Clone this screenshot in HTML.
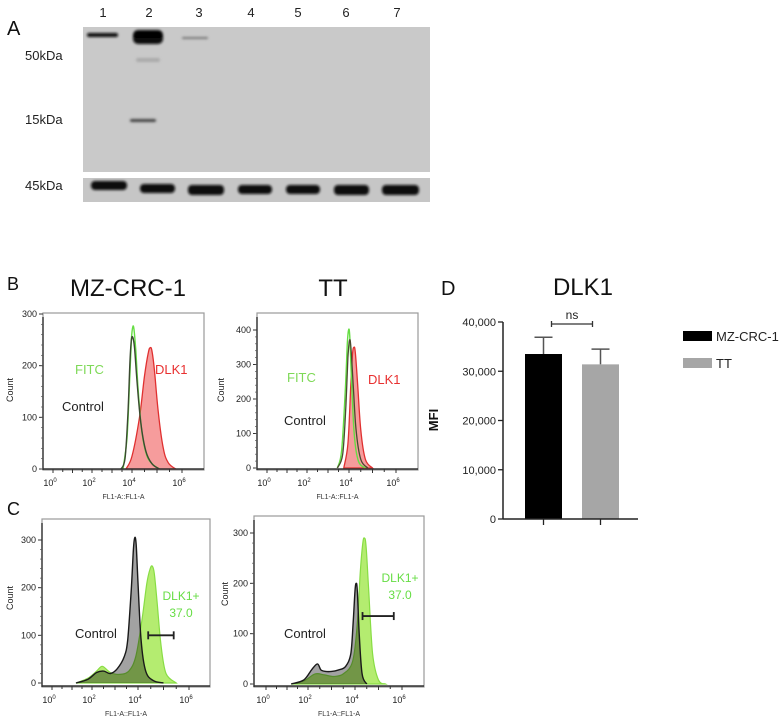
<!DOCTYPE html>
<html><head><meta charset="utf-8">
<style>
html,body{margin:0;padding:0;background:#fff;}
body{width:784px;height:722px;position:relative;overflow:hidden;font-family:"Liberation Sans",Arial,sans-serif;}
svg{position:absolute;left:0;top:0;}
</style></head>
<body>
<svg id="fig" width="784" height="722" viewBox="0 0 784 722" xmlns="http://www.w3.org/2000/svg">
<defs>
<filter id="blur1" x="-20%" y="-50%" width="140%" height="200%"><feGaussianBlur stdDeviation="1.2"/></filter>
</defs>
<g>
<text x="7" y="35" font-size="20" fill="#111">A</text>
<g font-size="13" fill="#222" text-anchor="middle">
<text x="103" y="17">1</text><text x="149" y="17">2</text><text x="199" y="17">3</text><text x="251" y="17">4</text><text x="298" y="17">5</text><text x="346" y="17">6</text><text x="397" y="17">7</text>
</g>
<g font-size="13" fill="#222">
<text x="25" y="60">50kDa</text><text x="25" y="124">15kDa</text><text x="25" y="190">45kDa</text>
</g>
<rect x="83" y="27" width="347" height="145" fill="#c9c9c9"/>
<rect x="83" y="178" width="347" height="24" fill="#c6c6c6"/>
<g filter="url(#blur1)" fill="#111">
<rect x="87" y="33" width="31" height="4" rx="2"/>
<rect x="133" y="30" width="30" height="14" rx="5"/>
<rect x="134" y="32" width="28" height="6" rx="3" fill="#000"/>
<rect x="182" y="37" width="26" height="2" rx="1" fill="#777"/>
<rect x="136" y="58" width="24" height="4" rx="2" fill="#aaa"/>
<rect x="130" y="119" width="26" height="3" rx="1.5" fill="#444"/>
<rect x="91" y="181" width="36" height="9" rx="4"/>
<rect x="140" y="184" width="35" height="9" rx="4"/>
<rect x="188" y="185" width="36" height="10" rx="4"/>
<rect x="238" y="185" width="34" height="9" rx="4"/>
<rect x="286" y="185" width="34" height="9" rx="4"/>
<rect x="334" y="185" width="35" height="10" rx="4"/>
<rect x="382" y="185" width="37" height="10" rx="4"/>
</g>
</g>

<text x="7" y="290" font-size="18" fill="#111">B</text>
<text x="7" y="515" font-size="18" fill="#111">C</text>
<text x="128" y="296" font-size="24" fill="#111" text-anchor="middle">MZ-CRC-1</text>
<text x="333" y="296" font-size="24" fill="#111" text-anchor="middle">TT</text>

<g id="hists"></g>
<g id="bar"></g>
</svg>

<script>
// ---------- Histogram data (log10 intensity, count) ----------
const bLeftControlX = [3.45,3.65,3.8,3.9,3.97,4.03,4.1,4.2,4.35,4.55,4.8,5.1];
const bLeftControlY = [0,20,110,210,250,255,235,170,90,35,10,0];
const bLeftFitcX = [3.55,3.75,3.88,3.97,4.03,4.08,4.15,4.25,4.4,4.6,4.85,5.1];
const bLeftFitcY = [0,60,170,250,275,270,230,150,70,25,8,0];
const bLeftDlkX = [3.7,4.0,4.3,4.5,4.65,4.73,4.8,4.9,5.05,5.25,5.45,5.75];
const bLeftDlkY = [0,25,100,180,225,235,228,190,110,40,12,0];

const bRightControlX = [3.45,3.7,3.85,3.95,4.02,4.08,4.18,4.3,4.5,4.8];
const bRightControlY = [0,40,180,320,370,350,240,110,25,0];
const bRightFitcX = [3.45,3.65,3.82,3.92,3.98,4.03,4.1,4.22,4.4,4.7];
const bRightFitcY = [0,50,220,360,400,385,270,100,20,0];
const bRightDlkX = [3.75,3.95,4.07,4.15,4.21,4.27,4.37,4.5,4.7,5.0];
const bRightDlkY = [0,70,230,330,350,335,240,110,25,0];

const cLeftControlX = [1.2,1.8,2.2,2.5,2.8,3.1,3.4,3.55,3.7,3.8,3.86,3.92,4.0,4.12,4.3,4.6,5.0];
const cLeftControlY = [0,8,22,25,20,30,55,90,190,280,305,290,210,90,25,5,0];
const cLeftDlkX = [1.2,1.8,2.2,2.45,2.8,3.2,3.6,3.9,4.15,4.35,4.48,4.56,4.64,4.75,4.9,5.1,5.5];
const cLeftDlkY = [0,10,25,35,22,18,25,55,130,210,240,245,230,170,80,20,0];

const cRightControlX = [1.2,1.8,2.15,2.4,2.55,2.75,3.0,3.3,3.6,3.82,3.92,4.0,4.05,4.1,4.18,4.3,4.5];
const cRightControlY = [0,8,28,40,28,25,25,28,35,60,120,185,200,185,100,20,0];
const cRightDlkX = [1.2,1.8,2.3,2.7,3.1,3.5,3.9,4.1,4.22,4.33,4.4,4.47,4.58,4.75,5.0,5.3];
const cRightDlkY = [0,6,20,18,15,20,45,120,220,280,290,275,190,60,8,0];

const gateLeft = [4.4, 5.4, 100];
const gateRight = [4.32, 5.65, 135];

const xTickLogs = [0,2,4,6];
const xTickText = ["10","10","10","10"];
const bLeftYTicks = [0,100,200,300];
const bRightYTicks = [0,100,200,300,400];
const cYTicks = [0,100,200,300];

// ---------- Bar chart data ----------
const barCategories = ["MZ-CRC-1","TT"];
const barMeans = [33500, 31400];
const barErrors = [3400, 3100];
const barYTicks = [0,10000,20000,30000,40000];
const barYTickText = ["0","10,000","20,000","30,000","40,000"];

const NS = "http://www.w3.org/2000/svg";
function mk(tag, attrs, parent){
  const e = document.createElementNS(NS, tag);
  for (const k in attrs) e.setAttribute(k, attrs[k]);
  if (parent) parent.appendChild(e);
  return e;
}
function smoothPath(pts){
  let d = "M" + pts[0][0].toFixed(1) + "," + pts[0][1].toFixed(1);
  for (let i=0;i<pts.length-1;i++){
    const p0 = pts[i-1]||pts[i], p1=pts[i], p2=pts[i+1], p3=pts[i+2]||p2;
    const c1x = p1[0]+(p2[0]-p0[0])/6, c1y = p1[1]+(p2[1]-p0[1])/6;
    const c2x = p2[0]-(p3[0]-p1[0])/6, c2y = p2[1]-(p3[1]-p1[1])/6;
    d += " C"+c1x.toFixed(1)+","+c1y.toFixed(1)+" "+c2x.toFixed(1)+","+c2y.toFixed(1)+" "+p2[0].toFixed(1)+","+p2[1].toFixed(1);
  }
  return d;
}
function makeX(knotsLog, knotsPx){
  return function(v){
    if (v<=knotsLog[0]) return knotsPx[0]+(v-knotsLog[0])*(knotsPx[1]-knotsPx[0])/(knotsLog[1]-knotsLog[0]);
    for (let i=0;i<knotsLog.length-1;i++){
      if (v<=knotsLog[i+1]) return knotsPx[i]+(v-knotsLog[i])*(knotsPx[i+1]-knotsPx[i])/(knotsLog[i+1]-knotsLog[i]);
    }
    const n=knotsLog.length-1;
    return knotsPx[n]+(v-knotsLog[n])*(knotsPx[n]-knotsPx[n-1])/(knotsLog[n]-knotsLog[n-1]);
  };
}
function makeY(y0, pxPerCount){ return c => y0 - c*pxPerCount; }

const hists = document.getElementById('hists');

function frame(p, name){
  const g = mk('g', {}, hists);
  
  
  const r = mk('rect', {x:p.l, y:p.t, width:p.r-p.l, height:p.b-p.t, fill:'#fff', stroke:'#9a9a9a', 'stroke-width':1.2}, g);
  
  
  return g;
}
function axes(g, p, X, Y, yTicks, labelY){
  mk('line', {x1:p.l, y1:p.t+4, x2:p.l, y2:p.b, stroke:'#333', 'stroke-width':1.4}, g);
  yTicks.forEach(v=>{
    const y = Y(v);
    mk('line', {x1:p.l-4, y1:y, x2:p.l, y2:y, stroke:'#333', 'stroke-width':1}, g);
    const t = mk('text', {x:p.l-6, y:y+3, 'font-size':9, 'text-anchor':'end', fill:'#222'}, g);
    t.textContent = v;
    
    
  });
  for (let c=yTicks[0]; c<yTicks[yTicks.length-1]; c+=20){
    mk('line', {x1:p.l-2, y1:Y(c), x2:p.l, y2:Y(c), stroke:'#555', 'stroke-width':0.7}, g);
  }
  mk('line', {x1:p.l, y1:p.b-1, x2:p.r, y2:p.b-1, stroke:'#333', 'stroke-width':1.4}, g);
  for (let d=0; d<=6.4; d+=0.5){
    const x = X(d);
    if (x<p.l||x>p.r) continue;
    mk('line', {x1:x, y1:p.b-1, x2:x, y2:p.b+ (d%1===0?3:2), stroke:'#333', 'stroke-width':1}, g);
  }
  xTickLogs.forEach((v,i)=>{
    const t = mk('text', {x:X(v)-3, y:p.b+16, 'font-size':9, 'text-anchor':'middle', fill:'#222'}, g);
    t.textContent = xTickText[i];
    const s = mk('tspan', {dy:-4, 'font-size':6}, t);
    s.textContent = v;
    
    
  });
  const xt = mk('text', {x:(p.l+p.r)/2, y:p.b+29, 'font-size':7, 'text-anchor':'middle', fill:'#333'}, g);
  xt.textContent = 'FL1-A::FL1-A';
  
  
  const yt = mk('text', {x:0, y:0, 'font-size':9, 'text-anchor':'middle', fill:'#222', transform:'translate('+labelY[0]+','+labelY[1]+') rotate(-90)'}, g);
  yt.textContent = 'Count';
  
  
}
function pts(xs, ys, X, Y){ return xs.map((v,i)=>[X(v), Y(ys[i])]); }
function label(g, txt, x, y, color, name, size){
  const t = mk('text', {x:x, y:y, 'font-size':size||13, fill:color}, g);
  t.textContent = txt;
  
  
  return t;
}

// ---- B left ----
(function(){
  const p = {l:43,r:204,t:313,b:470};
  const X = makeX([0,2,4,6],[53,92,132,182]);
  const Y = makeY(469, (469-314)/300);
  const g = frame(p, 'histogram-b-mz-crc-1');
  const red = mk('path', {d:smoothPath(pts(bLeftDlkX,bLeftDlkY,X,Y))+' Z', fill:'rgba(240,90,90,0.6)', stroke:'#e03030', 'stroke-width':1.3}, g);
  
  
  const gr = mk('path', {d:smoothPath(pts(bLeftFitcX,bLeftFitcY,X,Y)), fill:'none', stroke:'#66dd44', 'stroke-width':1.4}, g);
  
  
  const bl = mk('path', {d:smoothPath(pts(bLeftControlX,bLeftControlY,X,Y)), fill:'none', stroke:'#3a4a30', 'stroke-width':1.4}, g);
  
  
  axes(g, p, X, Y, bLeftYTicks, [13, 390]);
  label(g, 'FITC', 75, 374, '#7ed957', 'fitc-label');
  label(g, 'DLK1', 155, 374, '#e83030', 'dlk1-label');
  label(g, 'Control', 62, 411, '#222', 'control-label');
})();

// ---- B right ----
(function(){
  const p = {l:257,r:418,t:313,b:470};
  const X = makeX([0,2,4,6],[267,307,349,396]);
  const Y = makeY(468, (468-330)/400);
  const g = frame(p, 'histogram-b-tt');
  const red = mk('path', {d:smoothPath(pts(bRightDlkX,bRightDlkY,X,Y))+' Z', fill:'rgba(240,90,90,0.6)', stroke:'#e03030', 'stroke-width':1.3}, g);
  
  
  const gr = mk('path', {d:smoothPath(pts(bRightFitcX,bRightFitcY,X,Y)), fill:'none', stroke:'#66dd44', 'stroke-width':1.4}, g);
  
  
  const bl = mk('path', {d:smoothPath(pts(bRightControlX,bRightControlY,X,Y)), fill:'none', stroke:'#4a4a30', 'stroke-width':1.3}, g);
  
  
  axes(g, p, X, Y, bRightYTicks, [224, 390]);
  label(g, 'FITC', 287, 382, '#7ed957', 'fitc-label');
  label(g, 'DLK1', 368, 384, '#e83030', 'dlk1-label');
  label(g, 'Control', 284, 425, '#222', 'control-label');
})();

// ---- C panels ----
function cPanel(p, knotsPx, y0, y300, cx, cy, dx, dy, gate, name, ctrlLbl, dlkLbl, countPos){
  const X = makeX([0,2,4,6], knotsPx);
  const Y = makeY(y0, (y0-y300)/300);
  const g = frame(p, name);
  const green = mk('path', {d:smoothPath(pts(dx,dy,X,Y))+' Z', fill:'#b4ec70', stroke:'#88dd44', 'stroke-width':1.2}, g);
  
  
  const grey = mk('path', {d:smoothPath(pts(cx,cy,X,Y))+' Z', fill:'#a2a2a2', style:'mix-blend-mode:multiply', stroke:'none'}, g);
  
  
  const line = mk('path', {d:smoothPath(pts(cx,cy,X,Y)), fill:'none', stroke:'#1a1a1a', 'stroke-width':1.4}, g);
  
  
  const gg = mk('g', {stroke:'#222', 'stroke-width':1.8}, g);
  
  
  const gy2 = Y(gate[2]);
  mk('line', {x1:X(gate[0]), y1:gy2, x2:X(gate[1]), y2:gy2}, gg);
  mk('line', {x1:X(gate[0]), y1:gy2-4, x2:X(gate[0]), y2:gy2+4}, gg);
  mk('line', {x1:X(gate[1]), y1:gy2-4, x2:X(gate[1]), y2:gy2+4}, gg);
  axes(g, p, X, Y, cYTicks, countPos);
  label(g, 'Control', ctrlLbl[0], ctrlLbl[1], '#222', 'control-label');
  const t1 = label(g, 'DLK1+', dlkLbl[0], dlkLbl[1], '#66dd44', 'dlk1-positive-label', 12);
  t1.setAttribute('text-anchor','middle');
  const t2 = label(g, '37.0', dlkLbl[0], dlkLbl[1]+17, '#66dd44', 'dlk1-positive-percent', 12);
  t2.setAttribute('text-anchor','middle');
}
cPanel({l:42,r:210,t:519,b:687},[52,92,138,189],683,540,cLeftControlX,cLeftControlY,cLeftDlkX,cLeftDlkY,gateLeft,'histogram-c-mz-crc-1',[75,638],[181,600],[13,598]);
cPanel({l:254,r:424,t:516,b:687},[266,308,355,402],684,533,cRightControlX,cRightControlY,cRightDlkX,cRightDlkY,gateRight,'histogram-c-tt',[284,638],[400,582],[228,594]);

// ---- Panel D bar chart ----
(function(){
  const g = document.getElementById('bar');
  const axL = 503, axR = 638, yBase = 519, yTop = 322, vMax = 40000;
  const Y = v => yBase - v/vMax*(yBase-yTop);
  const bandStart = 515, band = 57, barW = 37;
  const X = i => bandStart + i*band + 10;
  const colors = ['#000000','#a6a6a6'];
  label(g, 'D', 441, 295, '#111', 'panel-d-label', 20);
  const title = label(g, 'DLK1', 583, 295, '#111', 'chart-title', 24);
  title.setAttribute('text-anchor','middle');
  const yt = mk('text', {x:0,y:0,'font-size':13,'font-weight':'bold','text-anchor':'middle',fill:'#111',transform:'translate(438,420) rotate(-90)'}, g);
  yt.textContent = 'MFI';
  
  
  barMeans.forEach((v,i)=>{
    const x = X(i);
    const e = mk('line', {x1:x+barW/2, y1:Y(v), x2:x+barW/2, y2:Y(v+barErrors[i]), stroke:'#555', 'stroke-width':1.5}, g);
    
    
    const c = mk('line', {x1:x+barW/2-9, y1:Y(v+barErrors[i]), x2:x+barW/2+9, y2:Y(v+barErrors[i]), stroke:'#555', 'stroke-width':1.5}, g);
    
    
    const r = mk('rect', {x:x, y:Y(v), width:barW, height:yBase-Y(v), fill:colors[i]}, g);
    
    
    mk('line', {x1:x+barW/2, y1:yBase, x2:x+barW/2, y2:yBase+6, stroke:'#222', 'stroke-width':1.3}, g);
  });
  mk('line', {x1:axL, y1:yTop, x2:axL, y2:yBase, stroke:'#222', 'stroke-width':1.5}, g);
  mk('line', {x1:axL, y1:yBase, x2:axR, y2:yBase, stroke:'#222', 'stroke-width':1.5}, g);
  barYTicks.forEach((v,i)=>{
    mk('line', {x1:axL-5, y1:Y(v), x2:axL, y2:Y(v), stroke:'#222', 'stroke-width':1.3}, g);
    const t = mk('text', {x:axL-7, y:Y(v)+4, 'font-size':11, 'text-anchor':'end', fill:'#222'}, g);
    t.textContent = barYTickText[i];
    
    
  });
  const br = mk('g', {stroke:'#333','stroke-width':1.3}, g);
  
  
  const bx1 = X(0)+barW/2+8, bx2 = X(1)+barW/2-8, by = 324;
  mk('line', {x1:bx1, y1:by, x2:bx2, y2:by}, br);
  mk('line', {x1:bx1, y1:by-3, x2:bx1, y2:by+3}, br);
  mk('line', {x1:bx2, y1:by-3, x2:bx2, y2:by+3}, br);
  const ns = label(g, 'ns', (bx1+bx2)/2, 319, '#222', 'ns-label', 12);
  ns.setAttribute('text-anchor','middle');
  barCategories.forEach((c,i)=>{
    const ly = 331 + i*27;
    const sw = mk('rect', {x:683, y:ly, width:29, height:10, fill:colors[i]}, g);
    
    
    label(g, c, 716, ly+10, '#222', 'legend-entry-'+c.toLowerCase(), 13);
  });
})();
</script>
</body></html>
